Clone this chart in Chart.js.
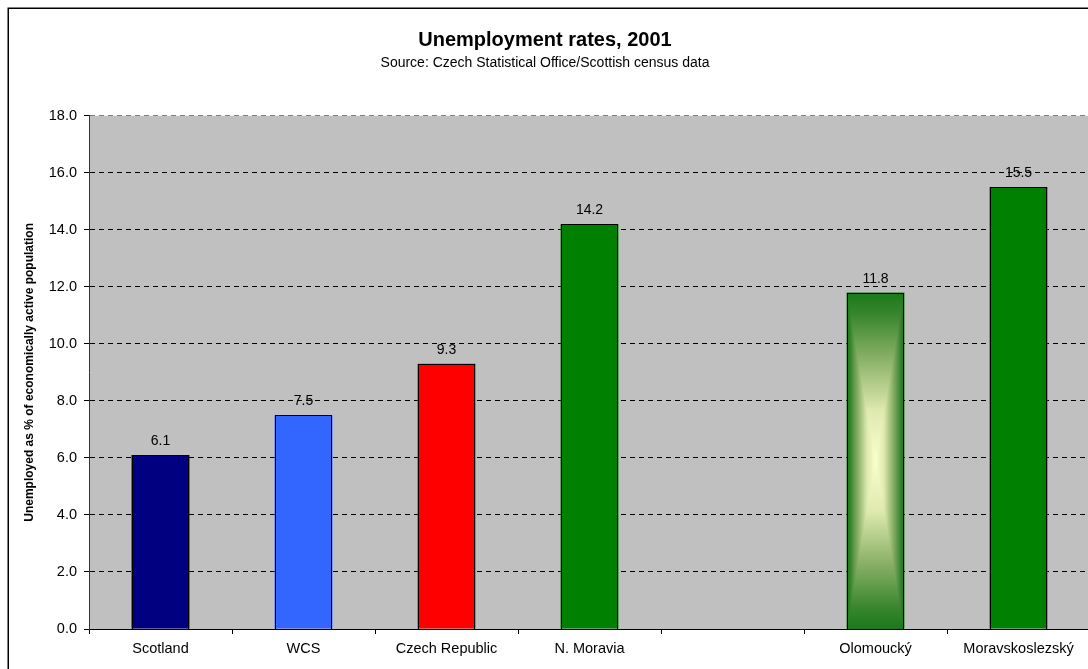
<html>

<head>
  <script src="https://cdn.jsdelivr.net/npm/chart.js"></script>
  <title>Unemployment rates, 2001</title>
  <style>
    body { margin: 0; overflow: hidden; background: #fff; }
    #myChart { position: absolute; left: 0; top: 0; }
  </style>
</head>

<body>

  <canvas id="myChart" width="1096" height="669" style="width:1096px;height:669px;"></canvas>

  <script>
    // 데이터
    const categories = ["Scotland", "WCS", "Czech Republic", "N. Moravia", "", "Olomoucký", "Moravskoslezský"];
    const rates = [6.1, 7.5, 9.3, 14.2, null, 11.8, 15.5];
    const barColors = ["#000080", "#3366FF", "#FF0000", "#008000", "#008000", "#1E7D1E", "#008000"];
    const yTicks = [0, 2, 4, 6, 8, 10, 12, 14, 16, 18];

    const chartTitle = "Unemployment rates, 2001";
    const chartSubtitle = "Source: Czech Statistical Office/Scottish census data";
    const yTitle = "Unemployed as % of economically active population";

    Chart.defaults.font.family = "'Liberation Sans', Arial, sans-serif";
    Chart.defaults.color = "#000";

    // 회색 배경 + 바깥 테두리
    const framePlugin = {
      id: "frame",
      beforeDraw: (chart) => {
        const { ctx, chartArea } = chart;
        ctx.save();
        ctx.fillStyle = "#C0C0C0";
        ctx.fillRect(chartArea.left, chartArea.top, chartArea.right - chartArea.left, chartArea.bottom - chartArea.top);
        ctx.restore();
      },
      afterDraw: (chart) => {
        const { ctx } = chart;
        ctx.save();
        ctx.strokeStyle = "#000";
        ctx.lineWidth = 1.5;
        ctx.strokeRect(8.25, 8.25, 3000, 3000);
        ctx.restore();
      },
    };

    // 그라데이션 색 (가장자리 -> 가운데)
    const gradStops = [
      [0, [26, 122, 26]],
      [0.12, [55, 132, 45]],
      [0.4, [140, 178, 105]],
      [0.7, [222, 233, 175]],
      [1, [250, 255, 205]],
    ];
    function gradColor(t) {
      for (let i = 1; i < gradStops.length; i++) {
        if (t <= gradStops[i][0]) {
          const [t0, c0] = gradStops[i - 1];
          const [t1, c1] = gradStops[i];
          const f = (t - t0) / (t1 - t0);
          return c0.map((c, k) => Math.round(c + (c1[k] - c) * f));
        }
      }
      return gradStops[gradStops.length - 1][1];
    }

    // 막대 테두리 + Olomoucký 막대의 가운데 그라데이션
    const barDecor = {
      id: "barDecor",
      afterDatasetsDraw: (chart) => {
        const { ctx } = chart;
        const meta = chart.getDatasetMeta(0);
        meta.data.forEach((bar, i) => {
          if (rates[i] === null) return;
          const p = bar.getProps(["x", "y", "base", "width"], true);
          const l = Math.round(p.x - p.width / 2), r = Math.round(p.x + p.width / 2);
          const t = Math.round(Math.min(p.y, p.base)), b = Math.round(Math.max(p.y, p.base));
          ctx.save();
          if (i === 5) {
            const w = r - l, h = b - t;
            const off = document.createElement("canvas");
            off.width = w; off.height = h;
            const octx = off.getContext("2d");
            const img = octx.createImageData(w, h);
            const hw = w / 2, hh = h / 2;
            for (let yy = 0; yy < h; yy++) {
              for (let xx = 0; xx < w; xx++) {
                const dx = Math.abs(xx + 0.5 - hw) / hw;
                const dy = Math.abs(yy + 0.5 - hh) / hh;
                const c = gradColor(1 - Math.max(dx, dy));
                const k = (yy * w + xx) * 4;
                img.data[k] = c[0]; img.data[k + 1] = c[1]; img.data[k + 2] = c[2]; img.data[k + 3] = 255;
              }
            }
            octx.putImageData(img, 0, 0);
            ctx.drawImage(off, l, t);
          }
          ctx.strokeStyle = "#000";
          ctx.lineWidth = 1;
          ctx.strokeRect(l + 0.5, t + 0.5, r - l - 1, b - t);
          ctx.restore();
        });
      },
    };

    // 막대 위 값 표시
    const valueLabels = {
      id: "valueLabels",
      afterDatasetsDraw: (chart) => {
        const { ctx } = chart;
        const meta = chart.getDatasetMeta(0);
        ctx.save();
        ctx.font = "14px 'Liberation Sans', Arial, sans-serif";
        ctx.fillStyle = "#000";
        ctx.textAlign = "center";
        ctx.textBaseline = "alphabetic";
        meta.data.forEach((el, i) => {
          const v = rates[i];
          if (v === null || v === undefined) return;
          ctx.fillText(v.toFixed(1), el.x, el.y - 10);
        });
        ctx.restore();
      },
    };

    const ctx1 = document.getElementById("myChart").getContext("2d");
    const myChart1 = new Chart(ctx1, {
      type: "bar",
      data: {
        labels: categories,
        datasets: [
          {
            label: "Unemployment rate",
            data: rates,
            backgroundColor: barColors,
            borderColor: "#000",
            borderWidth: 0,
            barPercentage: 0.405,
            categoryPercentage: 1,
          },
        ],
      },
      options: {
        responsive: false,
        animation: false,
        layout: {
          padding: { top: 8, right: 6, bottom: 0, left: 0 },
        },
        scales: {
          x: {
            offset: true,
            grid: {
              display: true,
              offset: true,
              drawOnChartArea: false,
              drawTicks: true,
              tickLength: 5,
              color: "#000",
            },
            border: { display: true, color: "#000", width: 1 },
            ticks: {
              padding: 6,
              maxRotation: 0,
              autoSkip: false,
              font: { size: 14.5 },
            },
            afterFit: (scale) => { scale.height = 40; },
          },
          y: {
            min: 0,
            max: 18,
            afterBuildTicks: (scale) => {
              scale.ticks = yTicks.map((v) => ({ value: v }));
            },
            grid: {
              display: true,
              tickLength: 5,
              color: (c) => {
                if (c.tick && c.tick.value === 0) return "rgba(0,0,0,0)";
                if (c.tick && c.tick.value === 18) return "#808080";
                return "#000";
              },
              tickColor: "#000",
            },
            border: { display: true, color: "#333", width: 1, dash: [5, 4] },
            ticks: {
              padding: 7,
              font: { size: 14.5 },
              callback: (v) => Number(v).toFixed(1),
            },
            title: {
              display: true,
              text: yTitle,
              font: { size: 12, weight: "bold" },
              padding: { top: 22, bottom: 0 },
            },
            afterFit: (scale) => { scale.width = 89; },
          },
        },
        plugins: {
          title: {
            display: true,
            text: chartTitle,
            font: { size: 20, weight: "bold" },
            padding: { top: 20, bottom: 0 },
          },
          subtitle: {
            display: true,
            text: chartSubtitle,
            font: { size: 14, weight: "normal" },
            color: "#000",
            padding: { top: 3, bottom: 44 },
          },
          tooltip: { enabled: false },
          legend: { display: false },
        },
      },
      plugins: [framePlugin, barDecor, valueLabels],
    });
  </script>
</body>

</html>
